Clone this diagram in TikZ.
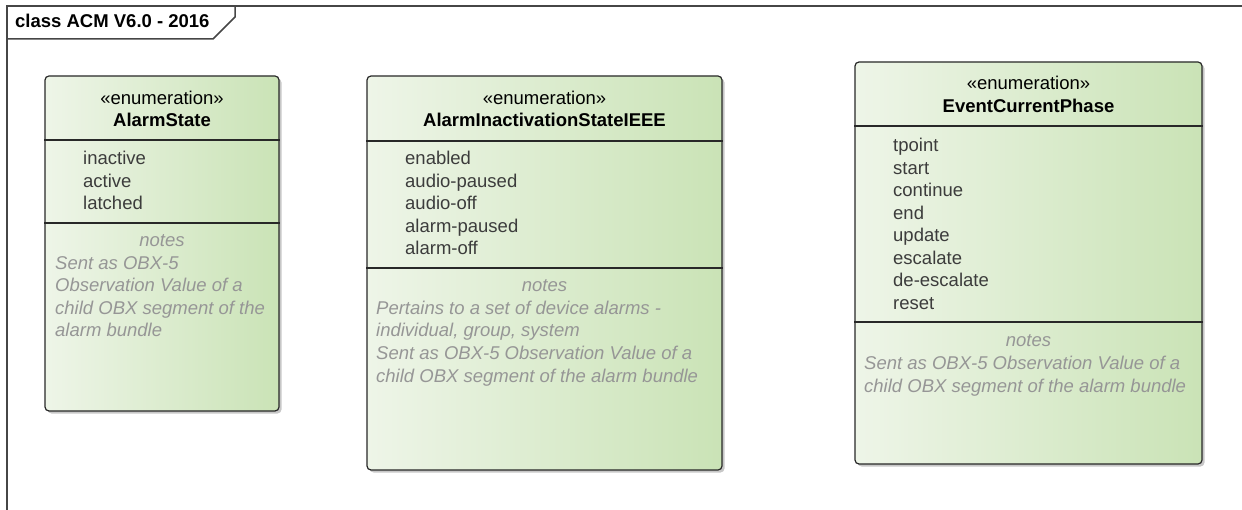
\documentclass[tikz,border=0pt]{standalone}
\usepackage{fontspec}
\setmainfont{Liberation Sans}
\usetikzlibrary{shadows}
\definecolor{gl}{RGB}{238,245,232}
\definecolor{gr}{RGB}{202,227,182}
\definecolor{bd}{RGB}{40,40,40}
\definecolor{attrc}{RGB}{60,60,60}
\definecolor{notec}{RGB}{150,150,150}
\definecolor{framec}{RGB}{70,70,70}
\begin{document}
\begin{tikzpicture}[x=1pt,y=-1pt,
  umlbox/.style={draw=bd, line width=1.2pt, rounded corners=4pt, left color=gl, right color=gr,
    drop shadow={shadow xshift=2.5pt, shadow yshift=-2.5pt, opacity=0.22, fill=black}, inner sep=0pt},
  sepline/.style={draw=bd, line width=1.2pt},
  uml/.style={font=\fontsize{18.5}{22.7}\selectfont, inner sep=0pt},
  stereo/.style={uml, anchor=base, text=black},
  titletxt/.style={uml, anchor=base, text=black, font=\fontsize{18.5}{22.7}\selectfont\bfseries},
  attrtxt/.style={uml, anchor=base west, text=attrc},
  notehead/.style={uml, anchor=base, text=notec, font=\fontsize{18.5}{22.7}\selectfont\itshape},
  notetxt/.style={uml, anchor=base west, text=notec, font=\fontsize{18.5}{22.7}\selectfont\itshape},
  framepath/.style={draw=framec, line width=1.5pt}
]
\useasboundingbox (0,0) rectangle (1242,510);
\fill[white] (0,0) rectangle (1242,510);

% frame
\draw[framepath] (7,510) -- (7,6) -- (1242,6);
\draw[framepath] (7,39) -- (213,39) -- (235,17) -- (235,6);
\node[uml, anchor=base west, font=\fontsize{18.5}{22.7}\selectfont\bfseries] (frametitle) at (15,28) {class ACM V6.0 - 2016};

% Box 1: AlarmState
\node[umlbox, minimum width=234pt, minimum height=335pt] (b1) at (162,243.5) {};
\draw[sepline] (b1.west |- 0,140) -- (b1.east |- 0,140);
\draw[sepline] (b1.west |- 0,223) -- (b1.east |- 0,223);
\node[stereo] (b1s) at (162,105) {«enumeration»};
\node[titletxt] (b1t) at (162,127) {AlarmState};
\node[attrtxt] (b1a1) at (83,165) {inactive};
\node[attrtxt] (b1a2) at (83,187.5) {active};
\node[attrtxt] (b1a3) at (83,210) {latched};
\node[notehead] (b1n) at (162,247) {notes};
\node[notetxt] (b1n1) at (55,269.5) {Sent as OBX-5};
\node[notetxt] (b1n2) at (55,292) {Observation Value of a};
\node[notetxt] (b1n3) at (55,314.5) {child OBX segment of the};
\node[notetxt] (b1n4) at (55,337) {alarm bundle};

% Box 2: AlarmInactivationStateIEEE
\node[umlbox, minimum width=355pt, minimum height=394pt] (b2) at (544.5,273) {};
\draw[sepline] (b2.west |- 0,141) -- (b2.east |- 0,141);
\draw[sepline] (b2.west |- 0,268) -- (b2.east |- 0,268);
\node[stereo] (b2s) at (544.5,105) {«enumeration»};
\node[titletxt] (b2t) at (544.5,127) {AlarmInactivationStateIEEE};
\node[attrtxt] (b2a1) at (405,165) {enabled};
\node[attrtxt] (b2a2) at (405,187.5) {audio-paused};
\node[attrtxt] (b2a3) at (405,210) {audio-off};
\node[attrtxt] (b2a4) at (405,232.5) {alarm-paused};
\node[attrtxt] (b2a5) at (405,255) {alarm-off};
\node[notehead] (b2n) at (544.5,292) {notes};
\node[notetxt] (b2n1) at (376,314.5) {Pertains to a set of device alarms -};
\node[notetxt] (b2n2) at (376,337) {individual, group, system};
\node[notetxt] (b2n3) at (376,359.5) {Sent as OBX-5 Observation Value of a};
\node[notetxt] (b2n4) at (376,382) {child OBX segment of the alarm bundle};

% Box 3: EventCurrentPhase
\node[umlbox, minimum width=347pt, minimum height=402pt] (b3) at (1028.5,263) {};
\draw[sepline] (b3.west |- 0,126) -- (b3.east |- 0,126);
\draw[sepline] (b3.west |- 0,322) -- (b3.east |- 0,322);
\node[stereo] (b3s) at (1028.5,90) {«enumeration»};
\node[titletxt] (b3t) at (1028.5,113) {EventCurrentPhase};
\node[attrtxt] (b3a1) at (893,152) {tpoint};
\node[attrtxt] (b3a2) at (893,174.5) {start};
\node[attrtxt] (b3a3) at (893,197) {continue};
\node[attrtxt] (b3a4) at (893,219.5) {end};
\node[attrtxt] (b3a5) at (893,242) {update};
\node[attrtxt] (b3a6) at (893,264.5) {escalate};
\node[attrtxt] (b3a7) at (893,287) {de-escalate};
\node[attrtxt] (b3a8) at (893,309.5) {reset};
\node[notehead] (b3n) at (1028.5,347) {notes};
\node[notetxt] (b3n1) at (864,369.5) {Sent as OBX-5 Observation Value of a};
\node[notetxt] (b3n2) at (864,392) {child OBX segment of the alarm bundle};
\end{tikzpicture}
\end{document}
